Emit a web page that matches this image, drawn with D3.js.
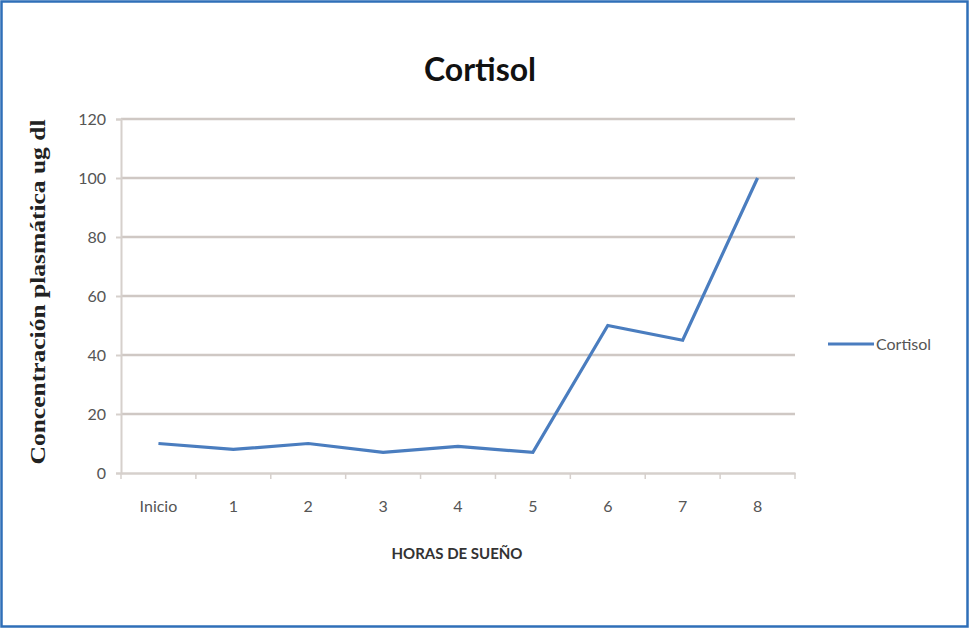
<!DOCTYPE html>
<html><head><meta charset="utf-8">
<script src="https://cdn.jsdelivr.net/npm/d3@7"></script>
<style>
html,body{margin:0;padding:0;background:#fff;}
svg{display:block;}
</style></head>
<body>
<script>
const categories = ["Inicio","1","2","3","4","5","6","7","8"];
const cortisol = [10, 8, 10, 7, 9, 7, 50, 45, 100];
const yTicks = [0,20,40,60,80,100,120];
const seriesName = "Cortisol";

(function(){
const W = 969, H = 628;
const svg = d3.select("body").append("svg").attr("width", W).attr("height", H);
svg.append("rect").attr("x",0).attr("y",0).attr("width",W).attr("height",H).attr("fill","#fff");
svg.append("rect").attr("x",1.5).attr("y",1.5).attr("width",W-3).attr("height",H-3)
  .attr("fill","none").attr("stroke","#2f6fb8").attr("stroke-width",2.5);

const pLeft = 121, pRight = 795, pTop = 119, pBottom = 473;
const x = d3.scaleBand().domain(categories).range([pLeft, pRight]);
const y = d3.scaleLinear().domain([0,120]).range([pBottom, pTop]);
const font = "Lato, 'Open Sans', sans-serif";

// gridlines
svg.append("g").selectAll("line").data(yTicks.filter(d=>d>0)).join("line")
  .attr("x1", pLeft).attr("x2", pRight).attr("y1", d=>y(d)).attr("y2", d=>y(d))
  .attr("stroke","#cfc8c4").attr("stroke-width",2.5);

// y axis
const ya = svg.append("g").attr("transform",`translate(${pLeft},0)`)
  .call(d3.axisLeft(y).tickValues(yTicks).tickSize(5).tickPadding(10));
ya.select(".domain").attr("stroke","#d6d0cc").attr("stroke-width",2);
ya.selectAll(".tick line").attr("stroke","#d6d0cc").attr("stroke-width",2);
ya.selectAll("text").attr("fill","#555").attr("font-family",font).attr("font-size",16);

// x axis
const xa = svg.append("g").attr("transform",`translate(0,${pBottom})`)
  .call(d3.axisBottom(x).tickSize(0).tickPadding(28));
xa.select(".domain").attr("stroke","#d6d0cc").attr("stroke-width",2.5);
xa.selectAll("text").attr("fill","#555").attr("font-family",font).attr("font-size",16);
svg.append("g").selectAll("line").data(d3.range(categories.length+1)).join("line")
  .attr("x1", i=>pLeft + i*x.step()).attr("x2", i=>pLeft + i*x.step())
  .attr("y1", pBottom).attr("y2", pBottom+6).attr("stroke","#d6d0cc").attr("stroke-width",1.5);

// line
const line = d3.line().x((d,i)=>x(categories[i]) + x.bandwidth()/2).y(d=>y(d));
svg.append("path").datum(cortisol).attr("d", line).attr("fill","none")
  .attr("stroke","#4a7dbf").attr("stroke-width",3.2).attr("stroke-linejoin","miter");

// title
svg.append("text").attr("x",480).attr("y",81).attr("text-anchor","middle")
  .attr("font-family",font).attr("font-weight","bold").attr("font-size",32).attr("fill","#111").text("Cortisol");

// x axis title
svg.append("text").attr("x",457).attr("y",559).attr("text-anchor","middle")
  .attr("font-family",font).attr("font-weight","bold").attr("font-size",15).attr("fill","#333").text("HORAS DE SUEÑO");

// y axis title
svg.append("text").attr("transform","translate(45,292) rotate(-90)").attr("text-anchor","middle")
  .attr("font-family","'Liberation Serif', 'DejaVu Serif', serif").attr("font-weight","bold").attr("font-size",21)
  .attr("textLength",345).attr("lengthAdjust","spacingAndGlyphs")
  .attr("fill","#222").text("Concentración plasmática ug dl");

// legend
svg.append("line").attr("x1",828).attr("x2",874).attr("y1",344).attr("y2",344)
  .attr("stroke","#4a7dbf").attr("stroke-width",3.2);
svg.append("text").attr("x",876).attr("y",350).attr("font-family",font).attr("font-size",16)
  .attr("fill","#555").text(seriesName);
})();
</script>
</body></html>
